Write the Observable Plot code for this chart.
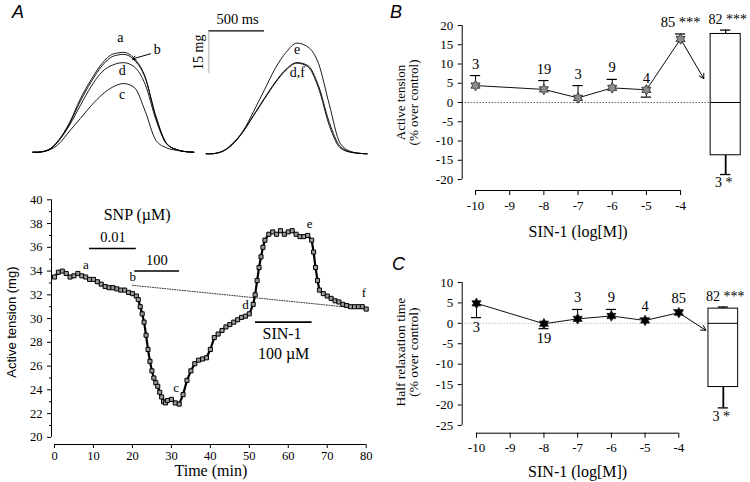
<!DOCTYPE html>
<html><head><meta charset="utf-8">
<script src="https://cdn.jsdelivr.net/npm/d3@7"></script>
<script src="https://cdn.jsdelivr.net/npm/@observablehq/plot@0.6"></script>
<style>
body{margin:0;background:#fff;}
#fig{position:relative;width:750px;height:482px;overflow:hidden;background:#fff;}
.plab{position:absolute;font-family:"Liberation Sans",Arial,sans-serif;font-style:italic;font-size:18px;line-height:18px;color:#000;}
</style></head><body><div id="fig"></div>
<script>
// ---------- Panel A (top): single twitch traces (time in ms, tension in mg) ----------
const traceTimes = [-40, 0, 100, 200, 300, 400, 500, 600, 700, 800, 900, 1000, 1100, 1200, 1300, 1400, 1450];
const traceA  = [0, 0, 0.8, 4.3, 10.4, 18.7, 25.4, 31.0, 34.3, 34.9, 32.7, 26.3, 12.0, 2.9, 0.8, 0.1, 0];
const traceB  = [0, 0, 0.7, 4.0, 10.0, 17.9, 24.6, 30.2, 33.5, 34.2, 32.2, 26.0, 12.5, 3.0, 0.8, 0.1, 0];
const traceD  = [0, 0, 0.8, 4.1, 9.5, 16.4, 23.0, 28.1, 30.5, 31.3, 29.8, 23.7, 11.3, 2.8, 0.8, 0.1, 0];
const traceC  = [0, 0, 0.6, 2.9, 7.4, 11.8, 16.3, 20.1, 22.8, 24.0, 22.6, 14.3, 4.1, 1.5, 0.6, 0.1, 0];
const traceE  = [0, 0, 0.7, 3.5, 7.9, 14.9, 22.4, 29.9, 35.5, 38.7, 37.4, 31.6, 17.2, 3.7, 0.8, 0.1, 0];
const traceD2 = [0, 0, 0.7, 3.1, 7.6, 13.4, 19.2, 24.8, 29.3, 31.7, 30.5, 23.0, 9.9, 2.1, 0.5, 0.1, 0];
const traceF  = [0, 0, 0.7, 3.2, 7.7, 13.6, 19.5, 25.1, 29.6, 31.9, 30.9, 23.8, 11.0, 2.6, 0.6, 0.1, 0];

// ---------- Panel A (bottom): active tension time course ----------
const tcTime = [0,1,2,3,4,5,6,7,8,9,10,11,12,13,14,15,16,17,18,19,20,21,21.5,22,22.5,23,23.5,24,24.5,25,25.5,26,26.5,27,27.5,28,28.5,29,30,31,32,33,34,35,36,37,38,39,40,41,42,43,44,45,46,47,48,49,50,51,51.5,52,52.5,53,53.5,54,55,56,57,58,59,60,61,62,63,64,65,66,66.5,67,67.5,68,69,70,71,72,73,74,75,76,77,78,79,80];
const tcTension = [33.5,33.9,34.0,33.8,33.5,33.6,33.8,33.6,33.5,33.3,33.3,33.1,32.9,32.7,32.6,32.6,32.5,32.4,32.4,32.2,32.1,31.9,31.6,31.0,30.4,29.7,28.6,27.4,26.4,25.6,25.0,24.6,24.3,23.8,23.4,23.0,22.9,23.1,23.2,22.9,22.8,23.6,24.8,25.6,26.2,26.5,26.6,26.7,27.4,28.4,28.7,29.0,29.3,29.5,29.7,29.9,30.1,30.2,30.4,31.2,32.0,33.2,34.3,35.2,36.0,36.6,37.1,37.3,37.1,37.4,37.1,37.3,37.4,37.1,36.9,36.9,37.0,36.6,35.6,34.3,33.2,32.4,32.1,31.9,31.7,31.5,31.4,31.2,31.1,31.0,31.0,31.0,31.0,30.8];
const tcPointNames = ["a","b","c","d","e","f"];
const tcBaseline = [[20, 32.8], [80, 30.8]];
const drugNames = ["0.01", "100", "SIN-1"];
const drugStart = [9, 20.6, 51.6];
const drugEnd   = [21, 32.1, 66.1];
const drugLevel = [35.9, 34.0, 29.7];

// ---------- Panel B: active tension vs SIN-1 ----------
const logConc = [-10, -8, -7, -6, -5, -4];
const tensionMean = [4.4, 3.4, 1.2, 3.8, 3.3, 16.5];
const tensionErr  = [2.6, 2.3, 3.2, 2.2, -1.9, 1.3];
const tensionN    = ["3", "19", "3", "9", "4", "85 ***"];
const tensionBox  = [-18.7, -13.7, 0, 17.8, 18.8]; // low, q1, median, q3, high
const tensionBoxN = ["3 *", "82 ***"];

// ---------- Panel C: half relaxation time vs SIN-1 ----------
const halfMean = [4.9, -0.1, 1.1, 1.8, 0.7, 2.6];
const halfErr  = [-3.5, -1.2, 2.3, 1.6, 0.5, 0.7];
const halfN    = ["3", "19", "3", "9", "4", "85"];
const halfBox  = [-20.7, -15.6, 0, 3.6, 4.0];
const halfBoxN = ["3 *", "82 ***"];

// ================= drawing =================
const fig = document.getElementById("fig");
const SERIF = '"Liberation Serif","Times New Roman",serif';
const SANS = '"Liberation Sans",Arial,sans-serif';
function place(el, left, top) {
  el.style.position = "absolute";
  el.style.left = left + "px";
  el.style.top = top + "px";
  el.style.maxWidth = "none";
  el.style.overflow = "visible";
  el.style.background = "transparent";
  fig.appendChild(el);
}
function letter(txt, left, top) {
  const d = document.createElement("div");
  d.className = "plab"; d.textContent = txt;
  d.style.left = left + "px"; d.style.top = top + "px";
  fig.appendChild(d);
}
const rowsOf = (names, series) => names.flatMap((k, i) => traceTimes.map((t, j) => ({k, t, mg: series[i][j]})));

// --- A top left traces
const leftRows = rowsOf(["a","b","d","c"], [traceA, traceB, traceD, traceC]);
place(Plot.plot({
  width: 175, height: 165, marginLeft: 12.4, marginRight: 1.7, marginTop: 8.7, marginBottom: 13.3,
  x: {domain: [-40, 1450], axis: null}, y: {domain: [0, 50], axis: null},
  style: {fontFamily: SERIF, fontSize: "14px"},
  marks: [
    Plot.line(leftRows, {x: "t", y: "mg", z: "k", curve: "monotone-x", stroke: "black", strokeWidth: 0.9}),
    Plot.text(["a", "d", "c"], {x: [771, 787, 787], y: [40, 28.5, 20.3], text: d => d, fontSize: 14}),
    Plot.text(["b"], {x: [1111], y: [36], text: d => d, fontSize: 14}),
    Plot.arrow([0], {x1: 1049, y1: 34.4, x2: 880, y2: 32.6, stroke: "black", strokeWidth: 1, headLength: 6})
  ]
}), 20, 0);

// --- A top right traces + scale bar
const rightRows = rowsOf(["e","d","f"], [traceE, traceD2, traceF]);
place(Plot.plot({
  width: 195, height: 165, marginLeft: 20.7, marginRight: 13.4, marginTop: 10.3, marginBottom: 11.7,
  x: {domain: [-40, 1450], axis: null}, y: {domain: [0, 50], axis: null},
  style: {fontFamily: SERIF, fontSize: "14px"},
  marks: [
    Plot.line(rightRows, {x: "t", y: "mg", z: "k", curve: "monotone-x", stroke: "black", strokeWidth: 0.9}),
    Plot.ruleY([43], {x1: -15, x2: 500, stroke: "black", strokeWidth: 1.2}),
    Plot.ruleX([-15], {y1: 28, y2: 43, stroke: "#999", strokeWidth: 0.8}),
    Plot.text(["500 ms"], {x: [250], y: [43], text: d => d, lineAnchor: "bottom", dy: -7, fontSize: 14.5}),
    Plot.text(["15 mg"], {x: [-15], y: [35.5], text: d => d, rotate: -90, dx: -10, fontSize: 14}),
    Plot.text(["e", "d,f"], {x: [803, 803], y: [36.6, 28.4], text: d => d, fontSize: 14})
  ]
}), 185, 0);

// --- A bottom: time course
const tc = tcTime.map((t, i) => ({t, v: tcTension[i]}));
const drugs = drugNames.map((n, i) => ({n, s: drugStart[i], e: drugEnd[i], y: drugLevel[i]}));
const xMinA = -0.77, yMinA = 19.4;
place(Plot.plot({
  width: 380, height: 312, marginLeft: 51, marginRight: 14.3, marginTop: 29.3, marginBottom: 38,
  x: {domain: [xMinA, 80]}, y: {domain: [yMinA, 40]},
  style: {fontFamily: SERIF, fontSize: "12.5px"},
  marks: [
    Plot.ruleX([xMinA], {y1: 20, y2: 40, stroke: "black"}),
    Plot.ruleY([yMinA], {x1: 0, x2: 80, stroke: "black"}),
    Plot.axisY({ticks: d3.range(20, 41, 2), tickSize: 4, tickPadding: 5, label: null, fontSize: 12.5}),
    Plot.axisY({ticks: d3.range(21, 40, 2), tickSize: 2, text: null, label: null}),
    Plot.axisX({ticks: d3.range(0, 81, 10), tickSize: 4, tickPadding: 3, label: null, fontSize: 12.5}),
    Plot.line(tcBaseline, {x: d => d[0], y: d => d[1], stroke: "black", strokeWidth: 0.8, strokeDasharray: "1,1.5"}),
    Plot.ruleY(drugs, {x1: "s", x2: "e", y: "y", stroke: "black", strokeWidth: 1.6}),
    Plot.line(tc, {x: "t", y: "v", stroke: "black", strokeWidth: 2.2}),
    Plot.dot(tc, {x: "t", y: "v", symbol: "square", r: 2.3, fill: "#9a9a9a", stroke: "black", strokeWidth: 1}),
    Plot.text(["SNP (µM)"], {x: [21.2], y: [38.7], text: d => d, fontSize: 16}),
    Plot.text(["0.01", "100"], {x: [15, 26.3], y: [36.85, 34.9], text: d => d, fontSize: 14.5}),
    Plot.text(["SIN-1", "100 µM"], {x: [58.4, 58.8], y: [28.7, 27.0], text: d => d, fontSize: 16}),
    Plot.text(tcPointNames, {x: [8.05, 20.1, 31.2, 49, 65.5, 79.4], y: [34.5, 33.5, 24.2, 31.2, 38.0, 32.2], text: d => d, fontSize: 13}),
    Plot.text(["Active tension (mg)"], {frameAnchor: "left", text: d => d, rotate: -90, textAnchor: "middle", lineAnchor: "middle", dx: -39.3, fontFamily: SANS, fontSize: 13}),
    Plot.text(["Time (min)"], {frameAnchor: "bottom", text: d => d, textAnchor: "middle", lineAnchor: "middle", dy: 26.5, dx: 2, fontSize: 16})
  ]
}), 0, 170);

// --- six-pointed star symbol
const hexagram = {
  draw(context, size) {
    const r = Math.sqrt(size / Math.PI);
    const R = r * 1.25, q = R / Math.sqrt(3);
    for (let i = 0; i < 12; i++) {
      const a = -Math.PI / 2 + i * Math.PI / 6;
      const rr = i % 2 ? q : R;
      const px = rr * Math.cos(a), py = rr * Math.sin(a);
      if (i) context.lineTo(px, py); else context.moveTo(px, py);
    }
    context.closePath();
  }
};

function dosePanel(o) {
  const pts = logConc.map((x, i) => ({x, y: o.mean[i], e: o.mean[i] + o.err[i], n: o.n[i], below: o.below[i]}));
  const [lo, q1, med, q3, hi] = o.box;
  const bx = -2.68, bw = 0.44, cap = 0.15;
  const box = [{lo, q1, med, q3, hi}];
  return Plot.plot({
    width: 370, height: o.height, marginLeft: 81.7, marginRight: 5, marginTop: o.mt, marginBottom: o.mb,
    x: {domain: o.xdom}, y: {domain: o.ydom},
    style: {fontFamily: SERIF, fontSize: "13px"},
    marks: [
      Plot.ruleX([o.xdom[0]], {y1: o.yAxis[0], y2: o.yAxis[1], stroke: "black"}),
      Plot.ruleY([o.ydom[0]], {x1: -10, x2: -4, stroke: "black"}),
      Plot.axisY({ticks: d3.range(o.yAxis[0], o.yAxis[1] + 1, 5), tickSize: 4, tickPadding: 5, tickFormat: d => `${d}`, label: null, fontSize: 13}),
      Plot.axisX({ticks: d3.range(-10, -3, 1), tickSize: 5, tickPadding: 5, tickFormat: d => `${d}`, label: null, fontSize: 13}),
      Plot.ruleY([0], {x1: o.xdom[0], x2: bx - bw, stroke: o.zeroColor, strokeWidth: 0.9, strokeDasharray: "1,2"}),
      // error bars
      Plot.ruleX(pts, {x: "x", y1: "y", y2: "e", stroke: "black", strokeWidth: 1}),
      Plot.ruleY(pts, {x1: d => d.x - cap, x2: d => d.x + cap, y: "e", stroke: "black", strokeWidth: 1.2}),
      Plot.line(pts, {x: "x", y: "y", stroke: "#111", strokeWidth: 1}),
      Plot.arrow([0], {x1: -4, y1: o.mean[5], x2: o.arrowTo[0], y2: o.arrowTo[1], stroke: "black", strokeWidth: 1, headLength: 8, insetStart: 3}),
      Plot.dot(pts, {x: "x", y: "y", symbol: hexagram, r: 4.2, fill: o.starFill, stroke: "#222", strokeWidth: 0.8}),
      // box
      Plot.ruleX(box, {x: () => bx, y1: "q3", y2: "hi", stroke: "black", strokeWidth: 1.3}),
      Plot.ruleX(box, {x: () => bx, y1: "q1", y2: "lo", stroke: "black", strokeWidth: 1.8}),
      Plot.ruleY(box, {x1: () => bx - cap, x2: () => bx + cap, y: "hi", stroke: "black", strokeWidth: 1.3}),
      Plot.ruleY(box, {x1: () => bx - cap, x2: () => bx + cap, y: "lo", stroke: "black", strokeWidth: 1.3}),
      Plot.rect(box, {x1: () => bx - bw, x2: () => bx + bw, y1: "q1", y2: "q3", fill: "white", stroke: "black", strokeWidth: 1}),
      Plot.ruleY(box, {x1: () => bx - bw, x2: () => bx + bw, y: "med", stroke: "black", strokeWidth: 1}),
      // n labels
      Plot.text(pts.filter(d => !d.below), {x: "x", y: d => Math.max(d.y, d.e), text: "n", lineAnchor: "bottom", dy: -7, fontSize: 14.5}),
      Plot.text(pts.filter(d => d.below), {x: "x", y: d => Math.min(d.y, d.e), text: "n", lineAnchor: "top", dy: 4, fontSize: 14.5}),
      Plot.text(box, {x: () => bx, y: "hi", text: () => o.boxN[1], lineAnchor: "bottom", dy: -6, dx: 2, fontSize: 14, fill: "black"}),
      Plot.text(box, {x: () => bx, y: "lo", text: () => o.boxN[0], lineAnchor: "top", dy: 3, dx: -2, fontSize: 14, fill: "black"}),
      // axis titles
      Plot.text(["SIN-1 (log[M])"], {x: [-7], frameAnchor: "bottom", text: d => d, textAnchor: "middle", lineAnchor: "middle", dy: o.xTitleDy, fontSize: 16}),
      Plot.text([o.yTitle], {frameAnchor: "left", text: d => d, rotate: -90, textAnchor: "middle", lineAnchor: "middle", dx: -55, dy: o.yTitleDy, lineHeight: 1.0, fontSize: o.yTitleSize})
    ]
  });
}

place(dosePanel({
  mean: tensionMean, err: tensionErr, n: tensionN, box: tensionBox, boxN: tensionBoxN,
  below: [false, false, false, false, false, false],
  height: 240, mt: 25, mb: 50, xdom: [-10.39, -2.1], ydom: [-22.85, 20], yAxis: [-20, 20],
  zeroColor: "black", starFill: "#8c8c8c", arrowTo: [-3.32, 6.2],
  xTitleDy: 41.7, yTitle: "Active tension\n(% over control)", yTitleDy: -5.5, yTitleSize: 13
}), 380, 0);

place(dosePanel({
  mean: halfMean, err: halfErr, n: halfN, box: halfBox, boxN: halfBoxN,
  below: [true, true, false, false, false, false],
  height: 242, mt: 42, mb: 49.3, xdom: [-10.424, -2.022], ydom: [-26.9, 10], yAxis: [-25, 10],
  zeroColor: "#999", starFill: "#000", arrowTo: [-3.2, -1.7],
  xTitleDy: 38.3, yTitle: "Half relaxation time\n(% over control)", yTitleDy: -5.7, yTitleSize: 13.5
}), 380, 240);

letter("A", 12, 3);
letter("B", 390, 3);
letter("C", 392, 255);
</script>
</body></html>
